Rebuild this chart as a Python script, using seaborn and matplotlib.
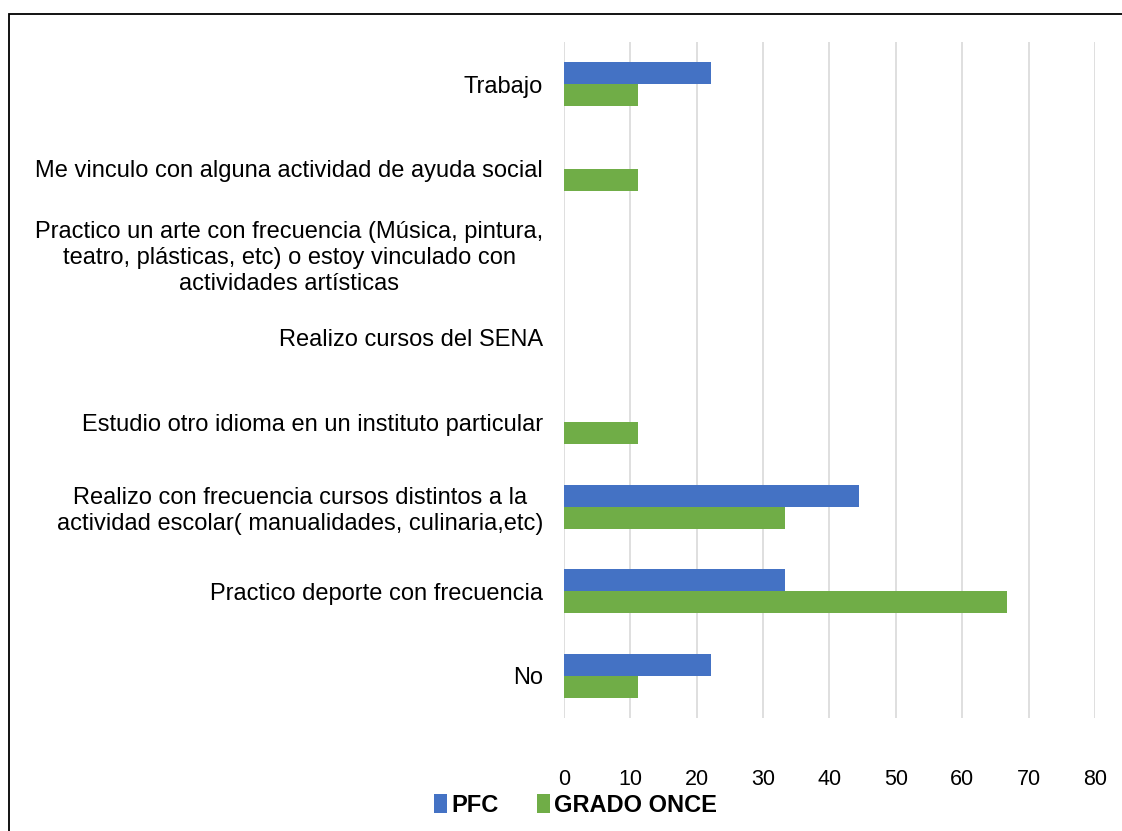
import pandas as pd
import matplotlib.pyplot as plt
import seaborn as sns
from matplotlib.patches import Rectangle

# Data
categories = [
    "Trabajo",
    "Me vinculo con alguna actividad de ayuda social",
    "Practico un arte con frecuencia (Música, pintura,\nteatro, plásticas, etc) o estoy vinculado con\nactividades artísticas",
    "Realizo cursos del SENA",
    "Estudio otro idioma en un instituto particular",
    "Realizo con frecuencia cursos distintos a la\nactividad escolar( manualidades, culinaria,etc)",
    "Practico deporte con frecuencia",
    "No",
]
pfc = [22.2, 0, 0, 0, 0, 44.4, 33.3, 22.2]
grado_once = [11.1, 11.1, 0, 0, 11.1, 33.3, 66.7, 11.1]
series_names = ["PFC", "GRADO ONCE"]
colors = {"PFC": "#4472C4", "GRADO ONCE": "#70AD47"}
x_ticks = [0, 10, 20, 30, 40, 50, 60, 70, 80]

df = pd.DataFrame({
    "Categoria": categories * 2,
    "Valor": pfc + grado_once,
    "Grupo": [series_names[0]] * len(categories) + [series_names[1]] * len(categories),
})

sns.set_style("white")
plt.rcParams["font.family"] = ["Liberation Sans", "DejaVu Sans"]
plt.rcParams["text.color"] = "black"

fig = plt.figure(figsize=(11.22, 8.31), dpi=100)
ax = fig.add_axes([0.5027, 0.136, 0.4732, 0.8135])

sns.barplot(data=df, x="Valor", y="Categoria", hue="Grupo", order=categories,
            hue_order=series_names, palette=colors, orient="h", width=0.52,
            saturation=1, linewidth=0, ax=ax)

ax.set_xlim(0, 80)
ax.set_xticks(x_ticks)
ax.set_xlabel("")
ax.set_ylabel("")
ax.grid(axis="x", color="#D9D9D9", linewidth=1.2)
ax.set_axisbelow(True)
for s in ax.spines.values():
    s.set_visible(False)
ax.tick_params(axis="x", length=0, pad=37, labelsize=15.5, labelcolor="black")
ax.tick_params(axis="y", length=0, pad=15, labelsize=17, labelcolor="black")
for lbl in ax.get_yticklabels():
    lbl.set_multialignment("center")
    lbl.set_linespacing(1.25)

handles, labels = ax.get_legend_handles_labels()
ax.get_legend().remove()
fig.legend(handles, labels, loc="center", bbox_to_anchor=(0.513, 0.031), ncol=2,
           frameon=False, handlelength=0.55, handleheight=0.9, handletextpad=0.2,
           columnspacing=1.6, prop={"weight": "bold", "size": 17})

# outer frame
fig.patches.append(Rectangle((0.008, -0.05), 1.2, 1.033, transform=fig.transFigure,
                             fill=False, edgecolor="black", linewidth=1.3))

plt.savefig("out.png", dpi=100)
